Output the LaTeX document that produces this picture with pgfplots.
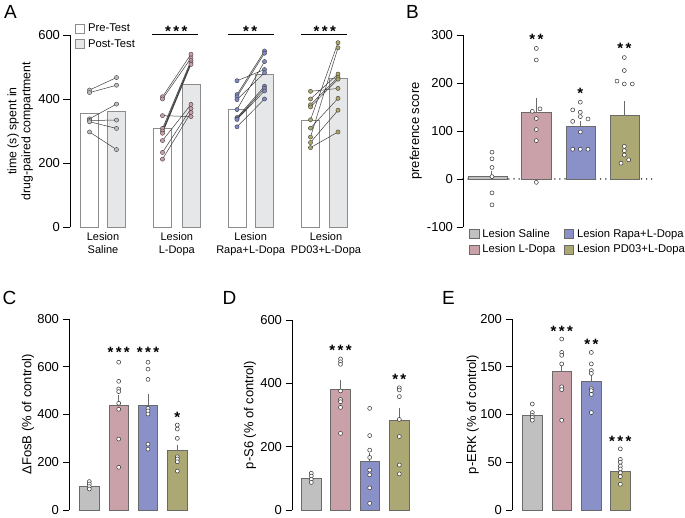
\documentclass[border=0pt]{standalone}
\usepackage{fontspec}
\setmainfont{Liberation Sans}
\usepackage{pgfplots}
\pgfplotsset{compat=1.18}
\usepackage{pgfplotstable}

\definecolor{cgray}{HTML}{C1C0C0}
\definecolor{cpink}{HTML}{CAA1A9}
\definecolor{cblue}{HTML}{8A91C9}
\definecolor{colive}{HTML}{ACA873}
\definecolor{cpost}{HTML}{E6E7E9}
\definecolor{edge}{HTML}{6A6A6A}
\definecolor{dgray}{HTML}{BDBDBD}
\definecolor{dpink}{HTML}{D09DA7}
\definecolor{dblue}{HTML}{8088CC}
\definecolor{dolive}{HTML}{ADA768}

\def\sk{\kern2.4pt}

\tikzset{stars/.style={anchor=base, yshift=-8.6pt, inner sep=0pt, font=\fontsize{15}{15}\selectfont\bfseries}}

\pgfplotsset{
  panel/.style={
    scale only axis, clip=false, anchor=south west,
    axis y line*=left,
    tick align=outside, major tick length=6.5pt,
    ytick style={black, line width=0.8pt},
    y axis line style={black, line width=0.8pt},
    /pgf/number format/assume math mode=true,
    ticklabel style={font=\fontsize{13}{15}\selectfont},
    ylabel style={anchor=center, font=\fontsize{13}{15}\selectfont},
    legend image code/.code={\draw[##1] (0pt,-4.75pt) rectangle (9.5pt,4.75pt);},
    legend style={draw=none, fill=none, inner sep=0pt, row sep=3pt,
      font=\fontsize{11.25}{13}\selectfont,
      column sep=1.5pt, nodes={inner sep=1.5pt, anchor=west},
      /tikz/every even column/.append style={column sep=7pt}},
    legend cell align=left,
  },
  noxaxis/.style={axis x line=none},
  bar/.style={ybar, bar shift=0pt, draw=edge, line width=0.6pt},
  sem/.style={edge, line width=0.7pt, unbounded coords=jump, forget plot},
  dots/.style={only marks, mark=*, mark size=2pt, forget plot,
    mark options={fill=white, draw=black!80, line width=0.5pt}},
  adot/.style={only marks, mark=*, mark size=2.1pt, forget plot,
    mark options={fill=#1, draw=black!75, line width=0.4pt}},
  pair/.style={black!75, line width=0.5pt, unbounded coords=jump, forget plot},
}

% panel A: pre/post pairs, one row per animal pair, nan row breaks the line
\pgfplotstableread{
x y
89.5 428
116.5 467
nan nan
89.5 420
116.5 443
nan nan
89.5 338
116.5 384
nan nan
89.5 333
116.5 334
nan nan
89.5 329
116.5 308
nan nan
89.5 297
116.5 242
}\tabAsal
\pgfplotstableread{
x y
162.5 407
191 540
nan nan
162.5 400
191 528
nan nan
162.5 348
191 345
nan nan
162.5 308
191 520
nan nan
162.5 300
191 513
nan nan
162.5 293
191 508
nan nan
162.5 270
191 383
nan nan
162.5 233
191 370
nan nan
162.5 212
191 358
}\tabAldopa
\pgfplotstableread{
x y
237 457
264.5 492
nan nan
237 414
264.5 550
nan nan
237 407
264.5 543
nan nan
237 398
264.5 482
nan nan
237 367
264.5 517
nan nan
237 342
264.5 440
nan nan
237 338
264.5 433
nan nan
237 336
264.5 425
nan nan
237 313
264.5 400
}\tabArapa
\pgfplotstableread{
x y
310.5 424
338 433
nan nan
310.5 400
338 478
nan nan
310.5 382
338 468
nan nan
310.5 375
338 462
nan nan
310.5 335
338 576
nan nan
310.5 309
338 402
nan nan
310.5 281
338 560
nan nan
310.5 264
338 365
nan nan
310.5 248
338 297
}\tabApd

\begin{document}
\begin{tikzpicture}
\path[use as bounding box] (0,0) rectangle (685pt,518pt);

\begin{scope}[font=\fontsize{19}{21}\selectfont]
\node at (10.5pt,506.5pt) {A};
\node at (412.5pt,506pt) {B};
\node at (9.5pt,220.5pt) {C};
\node at (229.5pt,220.5pt) {D};
\node at (448.5pt,220.5pt) {E};
\end{scope}

% ---------- A ----------
\begin{axis}[panel, at={(70pt,291pt)}, width=290pt, height=192pt,
  xmin=70, xmax=360, ymin=0, ymax=600, ytick={0,200,400,600},
  axis x line*=bottom, x axis line style={draw=none}, xtick style={draw=none},
  xtick={103,176.8,250.7,326},
  xticklabels={Lesion\\Saline, Lesion\\L-Dopa, Lesion\\Rapa+L-Dopa, Lesion\\PD03+L-Dopa},
  xticklabel style={align=center, font=\fontsize{11}{13}\selectfont, yshift=4pt},
  ylabel={time (s) spent in\\drug-paired compartment},
  ylabel style={align=center, font=\fontsize{12.3}{14}\selectfont,
    at={(axis description cs:-0.172,0.5)}},
  legend style={at={(axis cs:74.5,639)}, anchor=north west},
]
\addplot[bar, bar width=18, fill=white, draw=black!45, line width=0.8pt]
  coordinates {(89.5,355) (162.5,308) (237,368) (310.5,334)};
\addlegendentry{Pre-Test}
\addplot[bar, bar width=18, fill=cpost, draw=black!45, line width=0.8pt]
  coordinates {(116.5,362) (191,446) (264.5,478) (338,464)};
\addlegendentry{Post-Test}
\addplot[pair] table {\tabAsal};
\addplot[pair] table {\tabAldopa};
\addplot[pair] table {\tabArapa};
\addplot[pair] table {\tabApd};
\addplot[adot=dgray] table {\tabAsal};
\addplot[adot=dpink] table {\tabAldopa};
\addplot[adot=dblue] table {\tabArapa};
\addplot[adot=dolive] table {\tabApd};
\draw[black, line width=0.8pt] (axis cs:152.3,603) -- (axis cs:198.3,603);
\draw[black, line width=0.8pt] (axis cs:228.3,603) -- (axis cs:274.3,603);
\draw[black, line width=0.8pt] (axis cs:301,603) -- (axis cs:346.7,603);
\node[stars] at (axis cs:176.2,622) {*\sk*\sk*};
\node[stars] at (axis cs:250.2,622) {*\sk*};
\node[stars] at (axis cs:324.7,622) {*\sk*\sk*};
\end{axis}

% ---------- B ----------
\begin{axis}[panel, noxaxis, at={(463pt,291pt)}, width=190pt, height=192pt,
  xmin=463, xmax=653, ymin=-100, ymax=300, ytick={-100,0,100,200,300},
  ylabel={preference score},
  ylabel style={at={(axis description cs:-0.249,0.5)}},
  legend columns=2,
  legend style={at={(axis cs:469,-101)}, anchor=north west},
]
\addplot[black, line width=1.5pt, dash pattern=on 0pt off 5.1pt, line cap=round, forget plot]
  coordinates {(463,0) (656,0)};
\addplot[bar, bar width=39, fill=cgray, forget plot] coordinates {(487.5,5.5)};
\addplot[bar, bar width=29.5, fill=cpink, forget plot] coordinates {(536.5,139)};
\addplot[bar, bar width=29.5, fill=cblue, forget plot] coordinates {(581,109.5)};
\addplot[bar, bar width=29.5, fill=colive, forget plot] coordinates {(625,132)};
\addplot[sem] coordinates {(491.7,5.5) (491.7,17) (nan,nan) (536.3,139) (536.3,169)
  (nan,nan) (580.3,109.5) (580.3,121) (nan,nan) (624.3,132) (624.3,162)};
\addplot[dots] coordinates {
  (492,56) (492,42) (492,24) (492,5) (492,-29) (492,-54)
  (536.3,272) (536.3,248) (532.3,141) (540,146) (536.3,126) (536.3,103) (536.3,80) (536.3,-7)
  (580.3,160) (572.7,144) (580.3,139) (580.3,130) (588,125) (572.7,120) (580.3,98)
  (572.7,62) (580.3,62) (588,62)
  (624.3,253) (624.3,226) (617,204) (624.3,198) (632.3,198) (624.3,68) (624.3,59)
  (624.3,50) (621,33) (628.7,40)};
\node[stars] at (axis cs:536.3,298) {*\sk*};
\node[stars] at (axis cs:580.3,185) {*};
\node[stars] at (axis cs:624.3,279) {*\sk*};
\addlegendimage{fill=cgray, draw=edge, line width=0.6pt}
\addlegendentry{Lesion Saline}
\addlegendimage{fill=cblue, draw=edge, line width=0.6pt}
\addlegendentry{Lesion Rapa+L-Dopa}
\addlegendimage{fill=cpink, draw=edge, line width=0.6pt}
\addlegendentry{Lesion L-Dopa}
\addlegendimage{fill=colive, draw=edge, line width=0.6pt}
\addlegendentry{Lesion PD03+L-Dopa}
\end{axis}

% ---------- C ----------
\begin{axis}[panel, noxaxis, at={(69pt,8pt)}, width=130pt, height=191pt,
  xmin=69, xmax=199, ymin=0, ymax=800, ytick={0,200,400,600,800},
  ylabel={ΔFosB (\% of control)},
  ylabel style={at={(axis description cs:-0.315,0.5)}},
]
\addplot[bar, bar width=19.5, fill=cgray] coordinates {(89.3,100)};
\addplot[bar, bar width=19.5, fill=cpink] coordinates {(118.7,437)};
\addplot[bar, bar width=19.5, fill=cblue] coordinates {(148,437)};
\addplot[bar, bar width=19.5, fill=colive] coordinates {(177.3,248)};
\addplot[sem] coordinates {(89.3,100) (89.3,106) (nan,nan) (118.7,437) (118.7,480)
  (nan,nan) (148,437) (148,486) (nan,nan) (177.3,248) (177.3,272)};
\addplot[dots] coordinates {
  (89.3,119) (89.3,109) (89.3,98) (89.3,88)
  (118.7,619) (118.7,539) (118.7,507) (118.7,496) (118.7,447) (118.7,422) (118.7,297) (118.7,179)
  (148,619) (148,590) (148,547) (148,426) (148,415) (148,402) (148,276) (148,255)
  (177.3,356) (177.3,339) (177.3,300) (177.3,223) (177.3,214) (177.3,202) (177.3,163)};
\node[stars] at (axis cs:118.7,673) {*\sk*\sk*};
\node[stars] at (axis cs:148,673) {*\sk*\sk*};
\node[stars] at (axis cs:177.3,402) {*};
\end{axis}

% ---------- D ----------
\begin{axis}[panel, noxaxis, at={(292pt,8pt)}, width=130pt, height=190pt,
  xmin=292, xmax=422, ymin=0, ymax=600, ytick={0,200,400,600},
  ylabel={p-S6 (\% of control)},
  ylabel style={at={(axis description cs:-0.323,0.5)}},
]
\addplot[bar, bar width=19.5, fill=cgray] coordinates {(311.3,100)};
\addplot[bar, bar width=19.5, fill=cpink] coordinates {(340.5,381)};
\addplot[bar, bar width=19.5, fill=cblue] coordinates {(369.7,155)};
\addplot[bar, bar width=19.5, fill=colive] coordinates {(399.3,284)};
\addplot[sem] coordinates {(311.3,100) (311.3,106) (nan,nan) (340.5,381) (340.5,411)
  (nan,nan) (369.7,155) (369.7,179) (nan,nan) (399.3,284) (399.3,321)};
\addplot[dots] coordinates {
  (311.3,116) (311.3,107) (311.3,97) (311.3,87)
  (340.5,477) (340.5,468) (340.5,460) (340.5,376) (340.5,349) (340.5,342) (340.5,324) (340.5,242)
  (369.7,321) (369.7,235) (369.7,189) (369.7,166) (369.7,126) (369.7,111) (369.7,70) (369.7,21)
  (399.3,386) (399.3,379) (399.3,358) (399.3,286) (399.3,232) (399.3,142) (399.3,114)};
\node[stars] at (axis cs:340.5,516) {*\sk*\sk*};
\node[stars] at (axis cs:399.3,423) {*\sk*};
\end{axis}

% ---------- E ----------
\begin{axis}[panel, noxaxis, at={(512pt,8pt)}, width=130pt, height=191pt,
  xmin=512, xmax=642, ymin=0, ymax=200, ytick={0,50,100,150,200},
  ylabel={p-ERK (\% of control)},
  ylabel style={at={(axis description cs:-0.302,0.5)}},
]
\addplot[bar, bar width=19.5, fill=cgray] coordinates {(532.3,99.5)};
\addplot[bar, bar width=19.5, fill=cpink] coordinates {(561.7,145.5)};
\addplot[bar, bar width=19.5, fill=cblue] coordinates {(591.3,135)};
\addplot[bar, bar width=19.5, fill=colive] coordinates {(620.3,41)};
\addplot[sem] coordinates {(532.3,99.5) (532.3,102) (nan,nan) (561.7,145.5) (561.7,151)
  (nan,nan) (591.3,135) (591.3,141) (nan,nan) (620.3,41) (620.3,43.5)};
\addplot[dots] coordinates {
  (532.3,111) (532.3,102) (532.3,99) (532.3,97) (532.3,94)
  (561.7,179) (561.7,165) (561.7,162) (561.7,153) (561.7,129) (561.7,126) (561.7,94)
  (591.3,165) (591.3,153) (591.3,146) (591.3,143) (591.3,127) (591.3,125) (591.3,121) (591.3,102)
  (620.3,64) (620.3,53) (620.3,50) (620.3,46) (620.3,43) (620.3,39) (620.3,35) (620.3,27)};
\node[stars] at (axis cs:561.7,191) {*\sk*\sk*};
\node[stars] at (axis cs:591.3,177) {*\sk*};
\node[stars] at (axis cs:620.3,75) {*\sk*\sk*};
\end{axis}
\end{tikzpicture}
\end{document}
